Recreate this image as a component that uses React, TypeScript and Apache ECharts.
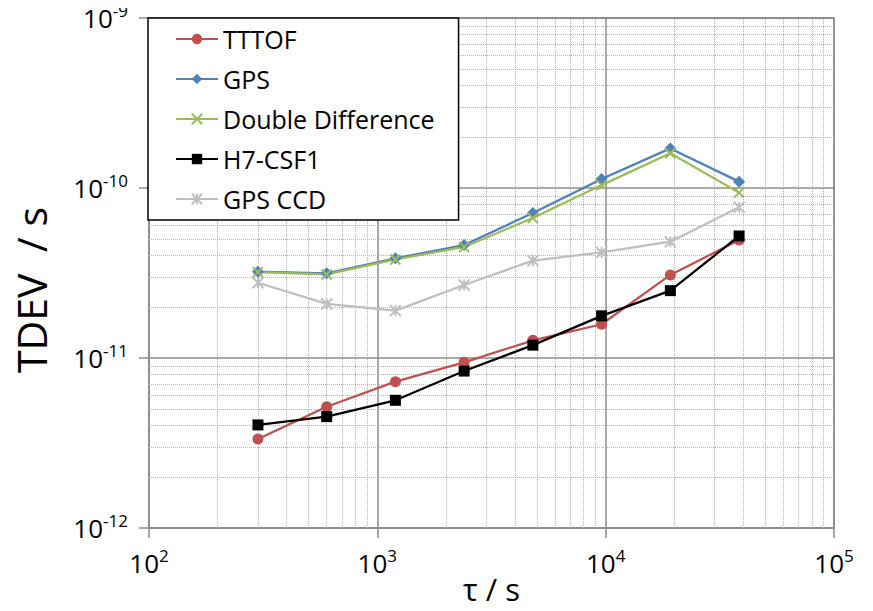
import React, { useEffect, useRef } from "react";
import * as echarts from "echarts";

const tau = [300, 600, 1200, 2400, 4800, 9600, 19200, 38400];
const tttof = [3.34e-12, 5.17e-12, 7.26e-12, 9.43e-12, 1.27e-11, 1.58e-11, 3.08e-11, 4.94e-11];
const gps = [3.22e-11, 3.15e-11, 3.86e-11, 4.62e-11, 7.13e-11, 1.13e-10, 1.71e-10, 1.09e-10];
const doubleDiff = [3.2e-11, 3.1e-11, 3.8e-11, 4.5e-11, 6.66e-11, 1.04e-10, 1.6e-10, 9.39e-11];
const h7csf1 = [4.04e-12, 4.52e-12, 5.64e-12, 8.38e-12, 1.19e-11, 1.77e-11, 2.49e-11, 5.22e-11];
const gpsCcd = [2.77e-11, 2.08e-11, 1.9e-11, 2.69e-11, 3.74e-11, 4.18e-11, 4.83e-11, 7.7e-11];

const seriesNames = ["TTTOF", "GPS", "Double Difference", "H7-CSF1", "GPS CCD"];
const xRange = [100, 100000];
const yRange = [1e-12, 1e-9];
const xDecades = [100, 1000, 10000];
const yDecades = [1e-12, 1e-11, 1e-10];
const minorMultipliers = [2, 3, 4, 5, 6, 7, 8, 9];

const FONT = "'Open Sans', sans-serif";

const pair = (ys: number[]) => tau.map((t, i) => [t, ys[i]]);

const expLabel = (v: number) => `{b|10}{s|${Math.round(Math.log10(v))}}`;

export default function App() {
  const ref = useRef<HTMLDivElement>(null);
  useEffect(() => {
    if (!ref.current) return;
    const chart = echarts.init(ref.current, null, { renderer: "svg" });
    const minorLines: { coords: number[][] }[] = [];
    xDecades.forEach((d) =>
      minorMultipliers.forEach((m) =>
        minorLines.push({ coords: [[m * d, yRange[0]], [m * d, yRange[1]]] })
      )
    );
    yDecades.forEach((d) =>
      minorMultipliers.forEach((m) =>
        minorLines.push({ coords: [[xRange[0], m * d], [xRange[1], m * d]] })
      )
    );

    const rich = {
      b: { fontSize: 26, fontFamily: FONT, color: "#000", lineHeight: 32 },
      s: { fontSize: 17, fontFamily: FONT, color: "#000", lineHeight: 20, verticalAlign: "top" },
    };

    const mk = (
      name: string,
      ys: number[],
      color: string,
      symbol: string,
      size: number,
      stroked: boolean
    ) => ({
      name,
      type: "line",
      data: pair(ys),
      z: 3,
      symbol,
      symbolSize: size,
      lineStyle: { color, width: 2.25 },
      itemStyle: stroked
        ? { color, borderColor: color, borderWidth: 2 }
        : { color, borderWidth: 0 },
      emphasis: { disabled: true },
    });

    chart.setOption({
      animation: false,
      grid: {
        left: 149,
        right: 39,
        top: 18,
        bottom: 83,
        show: true,
        borderColor: "#8c8c8c",
        borderWidth: 1.5,
        outerBoundsMode: "none",
        containLabel: false,
      },
      legend: {
        orient: "vertical",
        left: 148,
        top: 18,
        padding: [7, 24, 7, 27],
        itemGap: 12,
        itemWidth: 42,
        itemHeight: 13,
        backgroundColor: "#fff",
        borderColor: "#000",
        borderWidth: 1.5,
        textStyle: { fontSize: 25, fontFamily: FONT, color: "#000", lineHeight: 28 },
        data: seriesNames,
        selectedMode: false,
      },
      xAxis: {
        type: "log",
        logBase: 10,
        min: xRange[0],
        max: xRange[1],
        name: "τ / s",
        nameLocation: "middle",
        nameGap: 45,
        nameMoveOverlap: false,
        nameTextStyle: { fontSize: 31, fontFamily: FONT, color: "#000" },
        axisLine: { show: true, lineStyle: { color: "#8c8c8c", width: 1.5 } },
        axisTick: { show: true, length: 10, lineStyle: { color: "#8c8c8c", width: 1.5 } },
        splitLine: { show: true, lineStyle: { color: "#8c8c8c", width: 1.5 } },
        axisLabel: { margin: 19, formatter: expLabel, rich },
      },
      yAxis: {
        type: "log",
        logBase: 10,
        min: yRange[0],
        max: yRange[1],
        name: "TDEV  / s",
        nameLocation: "middle",
        nameGap: 98,
        nameRotate: 90,
        nameMoveOverlap: false,
        nameTextStyle: {
          fontSize: 41,
          fontFamily: FONT,
          color: "#000",
          padding: [0, 34, 0, 0],
        },
        axisLine: { show: true, lineStyle: { color: "#8c8c8c", width: 1.5 } },
        axisTick: { show: true, length: 10, lineStyle: { color: "#8c8c8c", width: 1.5 } },
        splitLine: { show: true, lineStyle: { color: "#8c8c8c", width: 1.5 } },
        axisLabel: { margin: 21, formatter: expLabel, rich },
      },
      series: [
        {
          name: "minor-grid",
          type: "lines",
          coordinateSystem: "cartesian2d",
          z: 1,
          silent: true,
          polyline: false,
          symbol: ["none", "none"],
          lineStyle: { color: "#b4b4b4", type: "dotted", width: 1, opacity: 1 },
          emphasis: { disabled: true },
          data: minorLines,
        },
        mk("TTTOF", tttof, "#C0504D", "circle", 11, false),
        mk("GPS", gps, "#4F81BD", "diamond", 12, false),
        mk("Double Difference", doubleDiff, "#9BBB59", "path://M0,0L10,10M10,0L0,10", 10, true),
        mk("H7-CSF1", h7csf1, "#000000", "rect", 11, false),
        mk("GPS CCD", gpsCcd, "#BFBFBF", "path://M5,0L5,10M0,0L10,10M10,0L0,10", 11, true),
      ],
    });
    return () => chart.dispose();
  }, []);
  return <div ref={ref} style={{ width: 873, height: 611, margin: -8 }} />;
}
